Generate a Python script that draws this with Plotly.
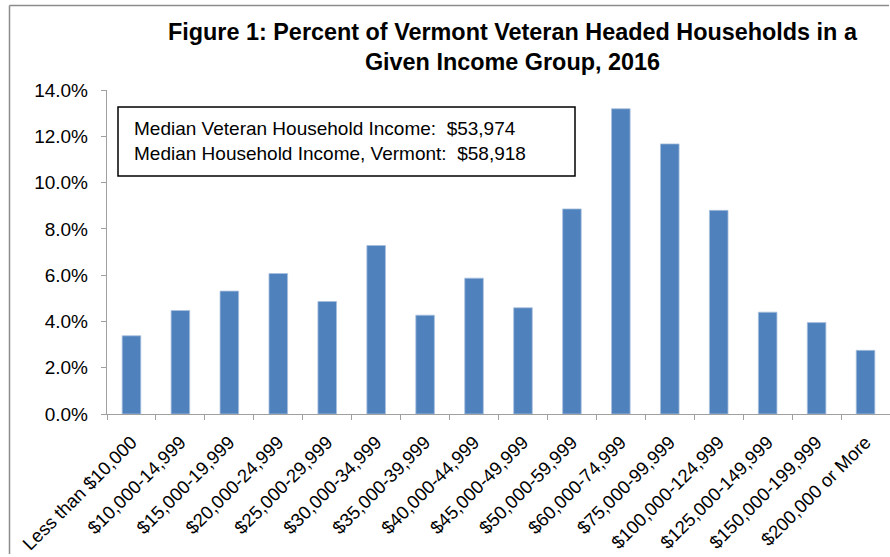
import plotly.graph_objects as go

categories = ["Less than $10,000", "$10,000-14,999", "$15,000-19,999", "$20,000-24,999",
              "$25,000-29,999", "$30,000-34,999", "$35,000-39,999", "$40,000-44,999",
              "$45,000-49,999", "$50,000-59,999", "$60,000-74,999", "$75,000-99,999",
              "$100,000-124,999", "$125,000-149,999", "$150,000-199,999", "$200,000 or More"]
percent_values = [3.38, 4.47, 5.31, 6.07, 4.86, 7.28, 4.27, 5.87,
                  4.59, 8.86, 13.19, 11.67, 8.80, 4.40, 3.95, 2.75]
y_tick_values = [0, 2, 4, 6, 8, 10, 12, 14]
y_tick_labels = ["0.0%", "2.0%", "4.0%", "6.0%", "8.0%", "10.0%", "12.0%", "14.0%"]
title_lines = ["Figure 1: Percent of Vermont Veteran Headed Households in a",
               "Given Income Group, 2016"]
box_lines = ["Median Veteran Household Income:  $53,974",
             "Median Household Income, Vermont:  $58,918"]

FONT = "Liberation Sans, Arial, sans-serif"
W, H = 890, 557
L, R, T, B = 107, 0, 90, 143
pw, ph = W - L - R, H - T - B

def px(x):
    return (x - L) / pw

def py(y):
    return (H - B - y) / ph

fig = go.Figure(go.Bar(
    x=categories, y=percent_values,
    marker=dict(color="#4F81BD", line=dict(color="#a9c0de", width=0.8)),
    hoverinfo="skip",
))

fig.update_layout(
    width=W, height=H,
    margin=dict(l=L, r=R, t=T, b=B, autoexpand=False),
    paper_bgcolor="white", plot_bgcolor="white",
    bargap=0.62,
    showlegend=False,
    font=dict(family=FONT, size=17, color="black"),
    xaxis=dict(
        type="category", tickangle=-45, tickson="boundaries",
        ticks="outside", ticklen=5, tickcolor="#a0a0a0",
        showline=True, linecolor="#a0a0a0", linewidth=1.2,
        showgrid=False, tickfont=dict(size=18.5, family=FONT), automargin=False,
        ticklabelstandoff=9,
    ),
    yaxis=dict(
        range=[0, 14], tickvals=y_tick_values, ticktext=y_tick_labels,
        ticks="outside", ticklen=5, tickcolor="#a0a0a0",
        showline=True, linecolor="#a0a0a0", linewidth=1.2,
        showgrid=False, zeroline=False, tickfont=dict(size=19, family=FONT),
        automargin=False, ticklabelstandoff=9,
    ),
    annotations=[
        dict(text="<br>".join("<b>" + s + "</b>" for s in title_lines),
             xref="paper", yref="paper", x=px(513), y=py(47),
             xanchor="center", yanchor="middle", showarrow=False,
             font=dict(size=23.4, family=FONT, color="black")),
        dict(text="<br>".join(box_lines), xref="paper", yref="paper", x=px(132), y=py(141),
             xanchor="left", yanchor="middle", align="left", showarrow=False,
             font=dict(size=19, family=FONT, color="black")),
    ],
    shapes=[
        dict(type="rect", xref="paper", yref="paper",
             x0=px(118), x1=px(575), y0=py(176), y1=py(107),
             line=dict(color="black", width=1.5), fillcolor="rgba(0,0,0,0)"),
        dict(type="line", xref="paper", yref="paper",
             x0=px(9.5), x1=px(9.5), y0=py(554), y1=py(5.5),
             line=dict(color="#8c8c8c", width=1.5)),
        dict(type="line", xref="paper", yref="paper",
             x0=px(9.5), x1=px(889), y0=py(5.5), y1=py(5.5),
             line=dict(color="#8c8c8c", width=1.5)),
    ],
)

fig.write_html(
    "out.html",
    config={"displayModeBar": False, "staticPlot": True},
    post_script="document.body.style.margin='0';document.body.style.overflow='hidden';",
)
